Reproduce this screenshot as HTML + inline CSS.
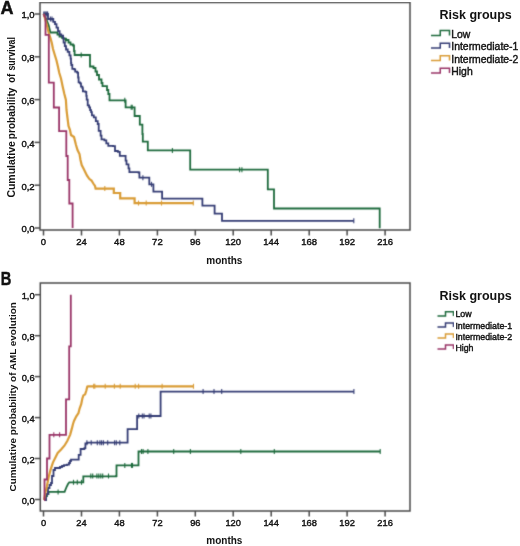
<!DOCTYPE html>
<html><head><meta charset="utf-8"><style>
html,body{margin:0;padding:0;background:#fff;}
svg{display:block;}
text{font-family:"Liberation Sans",sans-serif;fill:#111;}
.t{stroke:#111;stroke-width:0.4px;}
</style></head><body>
<svg width="520" height="546" viewBox="0 0 520 546">
<defs><filter id="id0" x="0" y="0" width="100%" height="100%"><feOffset dx="0" dy="0"/></filter><filter id="bl" x="0" y="0" width="100%" height="100%" color-interpolation-filters="sRGB"><feConvolveMatrix order="3" kernelMatrix="0.0196 0.1008 0.0196 0.1008 0.5184 0.1008 0.0196 0.1008 0.0196" divisor="1" edgeMode="none"/></filter></defs>
<rect width="520" height="546" fill="#fff"/>
<g filter="url(#bl)"><path d="M40,2.5H410V230H40Z" stroke="#4a4a4a" stroke-width="1.5" fill="none"/><path d="M34.5,228.0H40" stroke="#4a4a4a" stroke-width="1.5"/><path d="M34.5,185.2H40" stroke="#4a4a4a" stroke-width="1.5"/><path d="M34.5,142.4H40" stroke="#4a4a4a" stroke-width="1.5"/><path d="M34.5,99.6H40" stroke="#4a4a4a" stroke-width="1.5"/><path d="M34.5,56.8H40" stroke="#4a4a4a" stroke-width="1.5"/><path d="M34.5,14.0H40" stroke="#4a4a4a" stroke-width="1.5"/><path d="M43.5,230V235.5" stroke="#4a4a4a" stroke-width="1.5"/><path d="M81.5,230V235.5" stroke="#4a4a4a" stroke-width="1.5"/><path d="M119.4,230V235.5" stroke="#4a4a4a" stroke-width="1.5"/><path d="M157.4,230V235.5" stroke="#4a4a4a" stroke-width="1.5"/><path d="M195.3,230V235.5" stroke="#4a4a4a" stroke-width="1.5"/><path d="M233.2,230V235.5" stroke="#4a4a4a" stroke-width="1.5"/><path d="M271.2,230V235.5" stroke="#4a4a4a" stroke-width="1.5"/><path d="M309.2,230V235.5" stroke="#4a4a4a" stroke-width="1.5"/><path d="M347.1,230V235.5" stroke="#4a4a4a" stroke-width="1.5"/><path d="M385.1,230V235.5" stroke="#4a4a4a" stroke-width="1.5"/><path d="M431,35.4H440.25V30.6H449.5V35.4" stroke="#1d6a3c" stroke-width="1.5" fill="none"/><path d="M431,48.0H440.25V43.2H449.5V48.0" stroke="#343c74" stroke-width="1.5" fill="none"/><path d="M431,60.599999999999994H440.25V55.8H449.5V60.599999999999994" stroke="#d99c36" stroke-width="1.5" fill="none"/><path d="M431,73.1H440.25V68.3H449.5V73.1" stroke="#993467" stroke-width="1.5" fill="none"/><path d="M40.3,283H410V511H40.3Z" stroke="#4a4a4a" stroke-width="1.5" fill="none"/><path d="M34.8,499.5H40.3" stroke="#4a4a4a" stroke-width="1.5"/><path d="M34.8,458.5H40.3" stroke="#4a4a4a" stroke-width="1.5"/><path d="M34.8,417.6H40.3" stroke="#4a4a4a" stroke-width="1.5"/><path d="M34.8,376.6H40.3" stroke="#4a4a4a" stroke-width="1.5"/><path d="M34.8,335.7H40.3" stroke="#4a4a4a" stroke-width="1.5"/><path d="M34.8,294.7H40.3" stroke="#4a4a4a" stroke-width="1.5"/><path d="M43.5,511V516.5" stroke="#4a4a4a" stroke-width="1.5"/><path d="M81.5,511V516.5" stroke="#4a4a4a" stroke-width="1.5"/><path d="M119.4,511V516.5" stroke="#4a4a4a" stroke-width="1.5"/><path d="M157.4,511V516.5" stroke="#4a4a4a" stroke-width="1.5"/><path d="M195.3,511V516.5" stroke="#4a4a4a" stroke-width="1.5"/><path d="M233.2,511V516.5" stroke="#4a4a4a" stroke-width="1.5"/><path d="M271.2,511V516.5" stroke="#4a4a4a" stroke-width="1.5"/><path d="M309.2,511V516.5" stroke="#4a4a4a" stroke-width="1.5"/><path d="M347.1,511V516.5" stroke="#4a4a4a" stroke-width="1.5"/><path d="M385.1,511V516.5" stroke="#4a4a4a" stroke-width="1.5"/><path d="M437.5,315.9H445.5V311.79999999999995H453.5V315.9" stroke="#1d6a3c" stroke-width="1.5" fill="none"/><path d="M437.5,327.0H445.5V322.9H453.5V327.0" stroke="#343c74" stroke-width="1.5" fill="none"/><path d="M437.5,338.0H445.5V333.9H453.5V338.0" stroke="#d99c36" stroke-width="1.5" fill="none"/><path d="M437.5,349.0H445.5V344.9H453.5V349.0" stroke="#993467" stroke-width="1.5" fill="none"/>
<g fill="none" stroke-width="1.5" stroke-linejoin="miter" stroke-linecap="butt"><path d="M43.5,14.0L46.2,19.0L48.6,25.0L49.8,30.0L50.3,32.5H57.5V34.5H59.5V36.5H62.0V37.8H63.5V38.8H66.0V40.0H68.5V42.5H70.5V44.5H73.0V45.5H74.0V51.0H74.6V55.0H90.0V66.5H93.5V68.0H95.5V71.5H97.0V75.0H99.0V79.5H101.5V83.0H102.5V86.2H107.0V90.0H108.3V94.0H109.5V100.3H125.6V107.3H134.6V116.0H139.8V124.6H142.4V134.0H142.8V141.6H147.8V150.4H190.2V169.7H267.8V189.4H274.0V208.5H379.7V228.2" stroke="#1d6a3c" stroke-width="1.8"/><path d="M81.2,52.5V57.5" stroke="#1d6a3c" stroke-width="1.1"/><path d="M124.8,97.8V102.8" stroke="#1d6a3c" stroke-width="1.1"/><path d="M131.2,104.8V109.8" stroke="#1d6a3c" stroke-width="1.1"/><path d="M132.2,104.8V109.8" stroke="#1d6a3c" stroke-width="1.1"/><path d="M172.4,147.9V152.9" stroke="#1d6a3c" stroke-width="1.1"/><path d="M239.6,167.2V172.2" stroke="#1d6a3c" stroke-width="1.1"/><path d="M241.9,167.2V172.2" stroke="#1d6a3c" stroke-width="1.1"/><path d="M65.8,37.5V42.5" stroke="#1d6a3c" stroke-width="1.1"/><path d="M43.5,14.0H48.0V19.0H53.3V21.8H55.0V24.1H56.5V27.6H58.0V31.1H59.6V34.5H61.3V35.7H63.1V38.0H63.6V42.6H64.8V46.1H66.0V49.5H67.7V51.8H69.4V55.3H70.6V58.7H71.0V63.0H71.3V65.0H72.3V68.8H74.2V69.3H75.2V71.7H77.1V72.7H78.1V77.5H78.6V82.3H80.0V83.3H81.0V86.6H82.4V88.1H82.9V91.4H85.3V91.9H86.3V95.8H86.7V99.6H87.7V105.4H89.1V107.3H90.1V110.2H91.1V112.1H91.9V115.4H93.8V117.3H95.8V121.2H97.7V124.0H98.7V130.8H100.6V135.6H101.5V139.4H104.4V140.4H106.3V143.3H108.3V145.8H113.1V146.2H115.0V151.0H117.9V151.9H119.8V155.8H124.6V155.8H125.6V160.6H126.5V164.4H128.5V168.3H129.4V172.1H138.5V172.5H139.4V177.7H149.3V184.3H153.4V191.7H162.1V198.6H202.4V205.7H214.6V213.6H222.0V220.8H353.8V220.8" stroke="#343c74" stroke-width="1.8"/><path d="M353.8,218.3V223.3" stroke="#343c74" stroke-width="1.1"/><path d="M142.9,175.2V180.2" stroke="#343c74" stroke-width="1.1"/><path d="M151.5,181.8V186.8" stroke="#343c74" stroke-width="1.1"/><path d="M43.8,11.5V16.5" stroke="#343c74" stroke-width="1.1"/><path d="M44.8,11.5V16.5" stroke="#343c74" stroke-width="1.1"/><path d="M45.8,11.5V16.5" stroke="#343c74" stroke-width="1.1"/><path d="M46.8,11.5V16.5" stroke="#343c74" stroke-width="1.1"/><path d="M47.6,11.5V16.5" stroke="#343c74" stroke-width="1.1"/><path d="M50.4,16.5V21.5" stroke="#343c74" stroke-width="1.1"/><path d="M52.0,16.5V21.5" stroke="#343c74" stroke-width="1.1"/><path d="M43.5,14.0L44.0,15.0L46.9,25.3L48.7,32.8L50.6,38.5L51.8,43.0L53.0,49.0L54.8,55.0L56.5,60.5L57.8,66.0L59.3,73.0L61.0,78.5L62.6,86.2L64.3,93.8L65.9,100.0L66.5,110.0L67.5,118.0L68.5,126.0L70.0,130.0L71.0,135.0L74.0,137.0L76.0,145.0L77.5,150.0L79.5,154.0L80.5,160.0L81.7,165.0L83.5,168.5L85.2,171.9L86.9,175.4L89.2,178.8L91.5,180.5L93.3,183.5L95.0,186.0L95.6,188.6H113.8V193.0H120.2V198.4H134.6V203.1H193.3V203.1" stroke="#d99c36" stroke-width="2.2"/><path d="M104.8,186.1V191.1" stroke="#d99c36" stroke-width="1.1"/><path d="M138.5,200.6V205.6" stroke="#d99c36" stroke-width="1.1"/><path d="M146.2,200.6V205.6" stroke="#d99c36" stroke-width="1.1"/><path d="M161.5,200.6V205.6" stroke="#d99c36" stroke-width="1.1"/><path d="M193.3,200.6V205.6" stroke="#d99c36" stroke-width="1.1"/><path d="M43.5,14.0L45.5,18.0H45.5V34.8H48.8V82.7H53.8V107.5H59.1V131.1H66.3V156.0H67.7V180.0H69.3V203.5H72.6V228.0" stroke="#993467" stroke-width="1.8"/><path d="M44.0,500.0H46.0V496.0H47.0V494.0H48.5V491.9H64.6V491.9L66.5,487.0L68.0,484.0L69.3,482.3H83.3V476.3H116.2V476.0H116.5V465.4H138.3V465.4H138.5V451.5H380.2V451.5" stroke="#1d6a3c" stroke-width="1.8"/><path d="M58.1,489.4V494.4" stroke="#1d6a3c" stroke-width="1.1"/><path d="M73.5,479.8V484.8" stroke="#1d6a3c" stroke-width="1.1"/><path d="M77.3,479.8V484.8" stroke="#1d6a3c" stroke-width="1.1"/><path d="M81.5,479.8V484.8" stroke="#1d6a3c" stroke-width="1.1"/><path d="M90.8,473.5V478.5" stroke="#1d6a3c" stroke-width="1.1"/><path d="M92.7,473.5V478.5" stroke="#1d6a3c" stroke-width="1.1"/><path d="M96.9,473.5V478.5" stroke="#1d6a3c" stroke-width="1.1"/><path d="M98.8,473.5V478.5" stroke="#1d6a3c" stroke-width="1.1"/><path d="M100.8,473.5V478.5" stroke="#1d6a3c" stroke-width="1.1"/><path d="M102.7,473.5V478.5" stroke="#1d6a3c" stroke-width="1.1"/><path d="M108.5,473.5V478.5" stroke="#1d6a3c" stroke-width="1.1"/><path d="M124.8,462.9V467.9" stroke="#1d6a3c" stroke-width="1.1"/><path d="M131.5,462.9V467.9" stroke="#1d6a3c" stroke-width="1.1"/><path d="M132.5,462.9V467.9" stroke="#1d6a3c" stroke-width="1.1"/><path d="M141.5,449.0V454.0" stroke="#1d6a3c" stroke-width="1.1"/><path d="M143.1,449.0V454.0" stroke="#1d6a3c" stroke-width="1.1"/><path d="M147.9,449.0V454.0" stroke="#1d6a3c" stroke-width="1.1"/><path d="M173.7,449.0V454.0" stroke="#1d6a3c" stroke-width="1.1"/><path d="M190.4,449.0V454.0" stroke="#1d6a3c" stroke-width="1.1"/><path d="M240.8,449.0V454.0" stroke="#1d6a3c" stroke-width="1.1"/><path d="M274.3,449.0V454.0" stroke="#1d6a3c" stroke-width="1.1"/><path d="M380.2,449.0V454.0" stroke="#1d6a3c" stroke-width="1.1"/><path d="M44.0,500.0H46.0V494.0H48.0V488.0H49.5V485.0H51.0V483.0H52.0V476.0H53.5V470.0H55.0V468.0H58.0V468.0H60.0V467.0H62.0V466.0H64.0V465.2H67.0V464.6H69.0V463.0H70.0V461.0H71.0V459.6H77.7V459.6H78.7V454.8H80.6V453.8H80.6V449.0H84.4V448.1H85.4V443.3H87.3V442.7H127.6V429.2H137.1V416.0H160.6V391.6H353.9V391.6" stroke="#343c74" stroke-width="1.8"/><path d="M86.9,440.2V445.2" stroke="#343c74" stroke-width="1.1"/><path d="M91.2,440.2V445.2" stroke="#343c74" stroke-width="1.1"/><path d="M97.3,440.2V445.2" stroke="#343c74" stroke-width="1.1"/><path d="M99.9,440.2V445.2" stroke="#343c74" stroke-width="1.1"/><path d="M101.6,440.2V445.2" stroke="#343c74" stroke-width="1.1"/><path d="M103.4,440.2V445.2" stroke="#343c74" stroke-width="1.1"/><path d="M107.7,440.2V445.2" stroke="#343c74" stroke-width="1.1"/><path d="M114.6,440.2V445.2" stroke="#343c74" stroke-width="1.1"/><path d="M116.3,440.2V445.2" stroke="#343c74" stroke-width="1.1"/><path d="M119.8,440.2V445.2" stroke="#343c74" stroke-width="1.1"/><path d="M138.8,413.5V418.5" stroke="#343c74" stroke-width="1.1"/><path d="M142.3,413.5V418.5" stroke="#343c74" stroke-width="1.1"/><path d="M144.0,413.5V418.5" stroke="#343c74" stroke-width="1.1"/><path d="M149.2,413.5V418.5" stroke="#343c74" stroke-width="1.1"/><path d="M150.9,413.5V418.5" stroke="#343c74" stroke-width="1.1"/><path d="M203.1,389.1V394.1" stroke="#343c74" stroke-width="1.1"/><path d="M214.0,389.1V394.1" stroke="#343c74" stroke-width="1.1"/><path d="M221.7,389.1V394.1" stroke="#343c74" stroke-width="1.1"/><path d="M353.9,389.1V394.1" stroke="#343c74" stroke-width="1.1"/><path d="M44.0,500.0L45.5,492.0L46.8,486.8L48.7,477.1L50.5,469.9L52.9,462.6L55.3,457.8L57.7,452.9L61.3,449.3L64.4,445.7L67.4,440.8L70.2,434.6L71.9,428.4L73.0,424.0L74.1,420.7L76.3,416.3L78.5,413.0L79.6,408.6L81.2,404.2L82.3,398.7L83.4,395.4L85.1,394.3L86.2,391.0L87.3,386.6L88.0,386.3H193.5V386.3" stroke="#d99c36" stroke-width="2.2"/><path d="M93.7,383.8V388.8" stroke="#d99c36" stroke-width="1.1"/><path d="M94.8,383.8V388.8" stroke="#d99c36" stroke-width="1.1"/><path d="M105.2,383.8V388.8" stroke="#d99c36" stroke-width="1.1"/><path d="M114.4,383.8V388.8" stroke="#d99c36" stroke-width="1.1"/><path d="M120.2,383.8V388.8" stroke="#d99c36" stroke-width="1.1"/><path d="M135.2,383.8V388.8" stroke="#d99c36" stroke-width="1.1"/><path d="M138.6,383.8V388.8" stroke="#d99c36" stroke-width="1.1"/><path d="M162.1,383.8V388.8" stroke="#d99c36" stroke-width="1.1"/><path d="M193.5,383.8V388.8" stroke="#d99c36" stroke-width="1.1"/><path d="M44.0,500.0H44.5V479.5H47.0V458.5H49.5V434.8H66.0V399.3H69.2V346.3H70.8V294.7" stroke="#993467" stroke-width="1.8"/><path d="M53.8,432.3V437.3" stroke="#993467" stroke-width="1.1"/><path d="M59.6,432.3V437.3" stroke="#993467" stroke-width="1.1"/></g></g>
<g filter="url(#id0)"><text x="34.6" y="232.3" text-anchor="end" class="t" font-size="9.5">0,0</text><text x="34.6" y="189.5" text-anchor="end" class="t" font-size="9.5">0,2</text><text x="34.6" y="146.7" text-anchor="end" class="t" font-size="9.5">0,4</text><text x="34.6" y="103.9" text-anchor="end" class="t" font-size="9.5">0,6</text><text x="34.6" y="61.1" text-anchor="end" class="t" font-size="9.5">0,8</text><text x="34.6" y="18.3" text-anchor="end" class="t" font-size="9.5">1,0</text><text x="43.5" y="244.8" text-anchor="middle" class="t" font-size="9.5">0</text><text x="81.5" y="244.8" text-anchor="middle" class="t" font-size="9.5">24</text><text x="119.4" y="244.8" text-anchor="middle" class="t" font-size="9.5">48</text><text x="157.4" y="244.8" text-anchor="middle" class="t" font-size="9.5">72</text><text x="195.3" y="244.8" text-anchor="middle" class="t" font-size="9.5">96</text><text x="233.2" y="244.8" text-anchor="middle" class="t" font-size="9.5">120</text><text x="271.2" y="244.8" text-anchor="middle" class="t" font-size="9.5">144</text><text x="309.2" y="244.8" text-anchor="middle" class="t" font-size="9.5">168</text><text x="347.1" y="244.8" text-anchor="middle" class="t" font-size="9.5">192</text><text x="385.1" y="244.8" text-anchor="middle" class="t" font-size="9.5">216</text><text x="206.3" y="263.5" font-size="10" font-weight="bold">months</text><text transform="translate(15.4,169.4) rotate(-90)" text-anchor="middle" font-size="10" font-weight="bold" textLength="56.4" lengthAdjust="spacingAndGlyphs">Cumulative</text><text transform="translate(15.4,113.4) rotate(-90)" text-anchor="middle" font-size="10" font-weight="bold" textLength="51.6" lengthAdjust="spacingAndGlyphs">probability</text><text transform="translate(15.4,78.25) rotate(-90)" text-anchor="middle" font-size="10" font-weight="bold" textLength="9.0" lengthAdjust="spacingAndGlyphs">of</text><text transform="translate(15.4,53.8) rotate(-90)" text-anchor="middle" font-size="10" font-weight="bold" textLength="33.6" lengthAdjust="spacingAndGlyphs">survival</text><text x="0.5" y="13.6" font-size="18" font-weight="bold" stroke="#111" stroke-width="0.45">A</text><text x="439.5" y="18.7" font-size="12.5" font-weight="bold">Risk groups</text><text x="451.3" y="37.6" class="t" font-size="10.4">Low</text><text x="451.3" y="50.2" class="t" font-size="10.4">Intermediate-1</text><text x="451.3" y="62.8" class="t" font-size="10.4">Intermediate-2</text><text x="451.3" y="75.3" class="t" font-size="10.4">High</text><text x="34.6" y="503.8" text-anchor="end" class="t" font-size="9.3">0,0</text><text x="34.6" y="462.8" text-anchor="end" class="t" font-size="9.3">0,2</text><text x="34.6" y="421.9" text-anchor="end" class="t" font-size="9.3">0,4</text><text x="34.6" y="380.9" text-anchor="end" class="t" font-size="9.3">0,6</text><text x="34.6" y="340.0" text-anchor="end" class="t" font-size="9.3">0,8</text><text x="34.6" y="299.0" text-anchor="end" class="t" font-size="9.3">1,0</text><text x="43.5" y="526" text-anchor="middle" class="t" font-size="9.3">0</text><text x="81.5" y="526" text-anchor="middle" class="t" font-size="9.3">24</text><text x="119.4" y="526" text-anchor="middle" class="t" font-size="9.3">48</text><text x="157.4" y="526" text-anchor="middle" class="t" font-size="9.3">72</text><text x="195.3" y="526" text-anchor="middle" class="t" font-size="9.3">96</text><text x="233.2" y="526" text-anchor="middle" class="t" font-size="9.3">120</text><text x="271.2" y="526" text-anchor="middle" class="t" font-size="9.3">144</text><text x="309.2" y="526" text-anchor="middle" class="t" font-size="9.3">168</text><text x="347.1" y="526" text-anchor="middle" class="t" font-size="9.3">192</text><text x="385.1" y="526" text-anchor="middle" class="t" font-size="9.3">216</text><text x="206.3" y="544.2" font-size="10" font-weight="bold">months</text><text transform="translate(15.8,396.8) rotate(-90)" text-anchor="middle" font-size="9.92" font-weight="bold">Cumulative probability of AML evolution</text><text x="0.7" y="284.8" font-size="18" font-weight="bold" stroke="#111" stroke-width="0.45" textLength="10.6" lengthAdjust="spacingAndGlyphs">B</text><text x="439.5" y="299.6" font-size="12.5" font-weight="bold">Risk groups</text><text x="455.4" y="317.4" class="t" font-size="8.8">Low</text><text x="455.4" y="328.5" class="t" font-size="8.8">Intermediate-1</text><text x="455.4" y="339.5" class="t" font-size="8.8">Intermediate-2</text><text x="455.4" y="350.5" class="t" font-size="8.8">High</text></g>
</svg>
</body></html>
